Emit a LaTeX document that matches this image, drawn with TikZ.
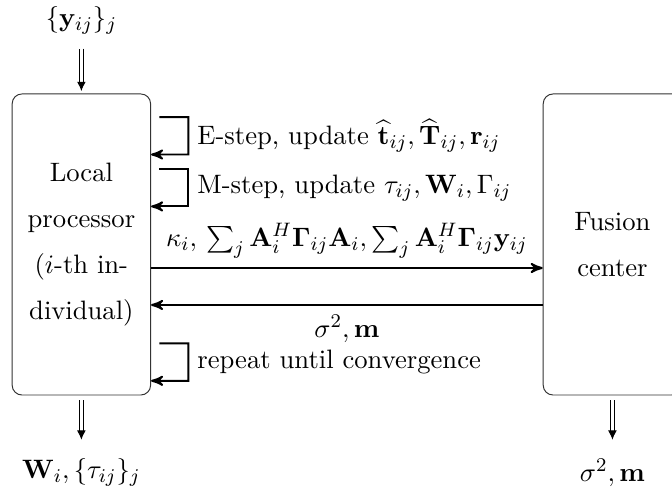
\documentclass[11pt,tikz,border=0pt]{standalone}
\usepackage{amsmath}
\usepackage{amssymb}
\usetikzlibrary{arrows,arrows.meta,positioning}
\tikzset{
    %Define standard arrow tip
    >=stealth',
    %Define style for the two processors
    proc/.style={
           rectangle,
           rounded corners,
           draw=black!80,
           minimum width=2cm,
           minimum height=4.35cm,
           align=center},
    %Define style for input and output arrows
    dbl/.style={
           double,
           double distance=1.2pt,
           -{Latex[length=3.8pt,width=3.6pt]},
           shorten <=2pt},
    % Define arrow style
    pil/.style={
           ->,
           thick},
    txt/.style={
           right,
           inner sep=3.3pt}
}
\begin{document}
\begin{tikzpicture}[node distance=1cm]
\clip (-1.176,-3.62) rectangle (8.535,3.533);
\node[proc](local) at (0,0){Local\\[5.3pt] processor\\[5.3pt] ($i$-th in-\\[5.3pt] dividual)};
\node[proc, right=5.66cm of local](fusion){Fusion\\[5.3pt] center};
\node[above=0.72cm of local](yin){$\{\mathbf{y}_{ij}\}_j$};
\node[below=0.78cm of local](wout){$\mathbf{W}_i, \{\tau_{ij}\}_j$};
\node[below=0.78cm of fusion](sout){$\sigma^2, \mathbf{m}$};
% inputs and outputs
\draw[dbl, shorten >=1pt] (yin) -- (local);
\draw[dbl, shorten >=4pt] (local) -- (wout);
\draw[dbl, shorten >=4pt] (fusion) -- (sout);
% local iterations
\draw[pil] ([shift={(0.12,1.84)}]local.east) -- ++(0.42,0)
    -- node[txt]{E-step, update $\widehat{\mathbf{t}}_{ij}, \widehat{\mathbf{T}}_{ij}, \mathbf{r}_{ij}$} ++(0,-0.54)
    -- ([yshift=1.30cm]local.east);
\draw[pil] ([shift={(0.12,1.09)}]local.east) -- ++(0.42,0)
    -- node[txt]{M-step, update $\tau_{ij}, \mathbf{W}_i, \Gamma_{ij}$} ++(0,-0.54)
    -- ([yshift=0.55cm]local.east);
\draw[pil] ([shift={(0.12,-1.43)}]local.east) -- ++(0.42,0)
    -- node[txt]{repeat until convergence} ++(0,-0.54)
    -- ([yshift=-1.97cm]local.east);
% messages
\draw[pil] ([yshift=-0.34cm]local.east) -- node[above]{$\kappa_i,\, \sum_j \mathbf{A}_i^H\boldsymbol{\Gamma}_{ij}\mathbf{A}_i, \sum_j \mathbf{A}_i^H\boldsymbol{\Gamma}_{ij}\mathbf{y}_{ij}$} ([yshift=-0.34cm]fusion.west);
\draw[pil] ([yshift=-0.874cm]fusion.west) -- node[below]{$\sigma^2, \mathbf{m}$} ([yshift=-0.874cm]local.east);
\end{tikzpicture}
\end{document}
